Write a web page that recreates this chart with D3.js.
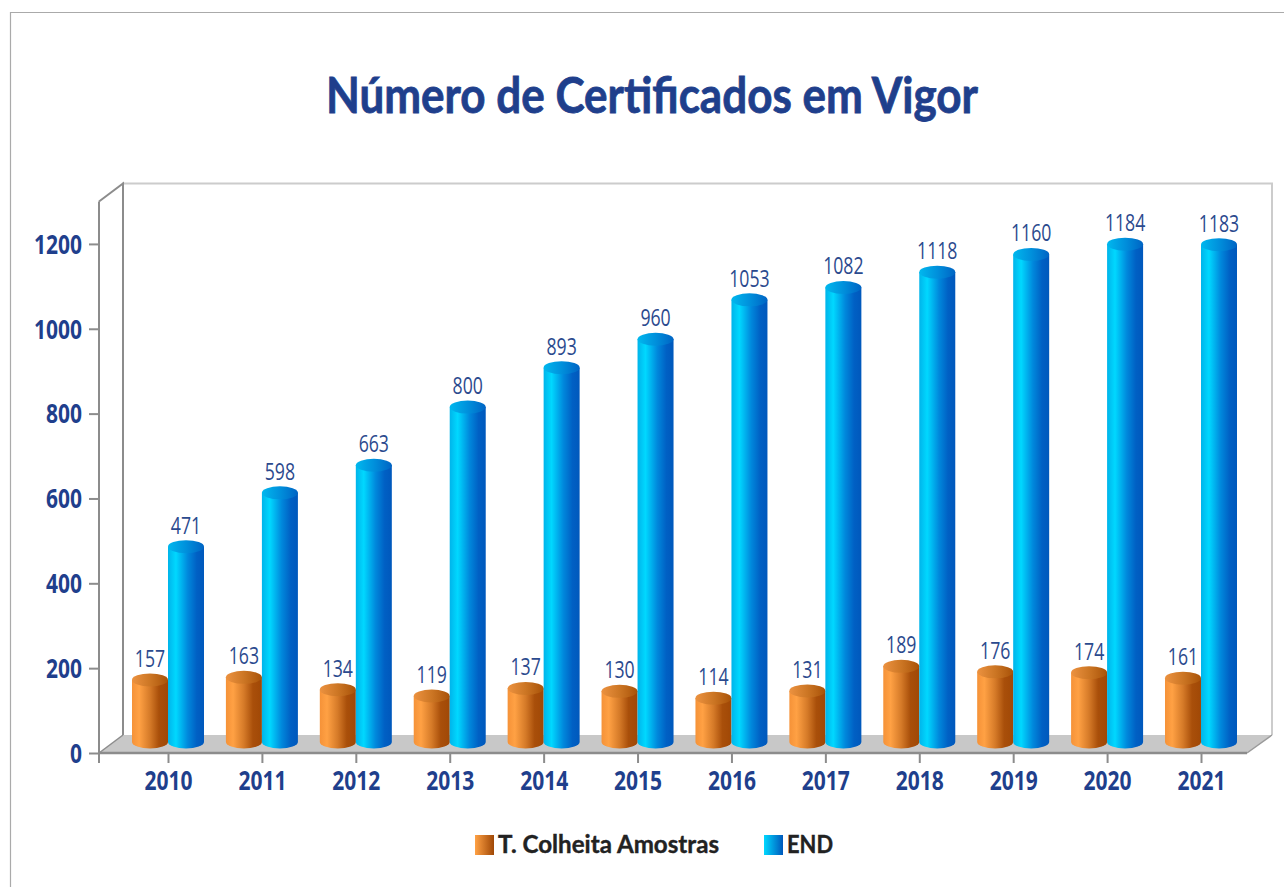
<!DOCTYPE html>
<html>
<head>
<meta charset="utf-8">
<script src="https://cdn.jsdelivr.net/npm/d3@7"></script>
<style>
  html, body { margin: 0; padding: 0; background: #fff; }
  svg { display: block; }
  text { font-family: "Open Sans", sans-serif; }
</style>
</head>
<body>
<div id="chart"></div>
<script>
// chart values
const years = ["2010","2011","2012","2013","2014","2015","2016","2017","2018","2019","2020","2021"];
const colheita = [157,163,134,119,137,130,114,131,189,176,174,161];
const endValues = [471,598,663,800,893,960,1053,1082,1118,1160,1184,1183];
const yTicks = [0,200,400,600,800,1000,1200];
const chartTitle = "Número de Certificados em Vigor";
const seriesNames = ["T. Colheita Amostras","END"];

const width = 1284, height = 887;
const navy = "#1f3f8c";

const svg = d3.select("#chart").append("svg")
  .attr("width", width)
  .attr("height", height)
  .attr("viewBox", `0 0 ${width} ${height}`);

// scales
const y = d3.scaleLinear().domain([0, 1300]).range([753, 201.5]);
const x = d3.scalePoint().domain(years).range([168, 1201]);

// gradients
const defs = svg.append("defs");
const addGradient = (id, stops) => {
  const g = defs.append("linearGradient").attr("id", id);
  stops.forEach(s => g.append("stop").attr("offset", s[0]).attr("stop-color", s[1]));
};
addGradient("orangeSide", [[0,"#f59238"],[0.2,"#ffa144"],[0.5,"#d57a28"],[0.75,"#a94f0a"],[1,"#a04806"]]);
addGradient("orangeTop", [[0,"#ec9240"],[0.5,"#cc7624"],[1,"#a85208"]]);
addGradient("blueSide", [[0,"#00b4ea"],[0.22,"#00d8ff"],[0.55,"#0088dc"],[0.8,"#0060c4"],[1,"#0058bc"]]);
addGradient("blueTop", [[0,"#00b8ee"],[0.5,"#0090dc"],[1,"#0064c4"]]);
addGradient("orangeKey", [[0,"#ffa144"],[1,"#a04806"]]);
addGradient("blueKey", [[0,"#00d8ff"],[1,"#0058bc"]]);

// outer frame
svg.append("path")
  .attr("d", `M10.5,${height} V12.5 H${width}`)
  .attr("fill", "none")
  .attr("stroke", "#aaaaaa")
  .attr("stroke-width", 1.2);

// title
svg.append("text")
  .attr("x", 652)
  .attr("y", 113)
  .attr("text-anchor", "middle")
  .attr("textLength", 652)
  .attr("lengthAdjust", "spacingAndGlyphs")
  .style("font-family", 'Lato, sans-serif')
  .style("font-size", "50px")
  .style("font-weight", 700)
  .attr("fill", navy)
  .attr("stroke", navy)
  .attr("stroke-width", 0.8)
  .text(chartTitle);

// 3d box
const depthX = 24, depthY = -18;
const xLeft = 99, xRight = 1247;
const yTop = y(1300), yBase = y(0);

svg.append("path")
  .attr("d", `M${xLeft},${yBase} L${xLeft + depthX},${yBase + depthY} H${xRight + depthX + 1} L${xRight},${yBase} Z`)
  .attr("fill", "#c8c8c8");

svg.append("path")
  .attr("d", `M${xLeft + depthX},${yBase + depthY} V${yTop + depthY} H${xRight + depthX + 1} V${yBase + depthY}`)
  .attr("fill", "none")
  .attr("stroke", "#cccccc")
  .attr("stroke-width", 2);

svg.append("path")
  .attr("d", `M${xLeft + depthX},${yBase + depthY} V${yTop + depthY} L${xLeft},${yTop}`)
  .attr("fill", "none")
  .attr("stroke", "#8c8c8c")
  .attr("stroke-width", 2);

svg.append("path")
  .attr("d", `M${xLeft},${yBase} L${xLeft + depthX},${yBase + depthY}`)
  .attr("stroke", "#8c8c8c")
  .attr("stroke-width", 1.5);

svg.append("path")
  .attr("d", `M${xRight},${yBase} L${xRight + depthX + 1},${yBase + depthY}`)
  .attr("stroke", "#9a9a9a")
  .attr("stroke-width", 1.5);

// axes
const yAxis = svg.append("g")
  .attr("transform", `translate(${xLeft},0)`)
  .call(d3.axisLeft(y).tickValues(yTicks).tickFormat(d3.format("d")).tickSize(10).tickPadding(7));
const xAxis = svg.append("g")
  .attr("transform", `translate(0,${yBase})`)
  .call(d3.axisBottom(x).tickSize(10).tickPadding(4).tickSizeOuter(0));

[yAxis, xAxis].forEach(a => {
  a.select(".domain").remove();
  a.selectAll("line").attr("stroke", "#8c8c8c").attr("stroke-width", 2);
  a.selectAll("text")
    .attr("fill", navy)
    .attr("textLength", function() { return this.textContent.length * 12; })
    .attr("lengthAdjust", "spacingAndGlyphs")
    .style("font-family", '"Open Sans", sans-serif')
    .style("font-size", "26px")
    .style("font-weight", 700);
});
yAxis.selectAll("text").attr("dy", "0.36em");
xAxis.selectAll("text").attr("y", 37).attr("dy", 0);

svg.append("line")
  .attr("x1", xLeft).attr("x2", xRight).attr("y1", yBase).attr("y2", yBase)
  .attr("stroke", "#8c8c8c").attr("stroke-width", 2.5);
svg.append("line")
  .attr("x1", xLeft).attr("x2", xLeft).attr("y1", yTop).attr("y2", yBase + 10)
  .attr("stroke", "#8c8c8c").attr("stroke-width", 2);

// cylinders
const barW = 36, ry = 6.5;
const floorY = y(0) - 11;
const topY = v => y(v) - 6.5;
const barCenter = (i, shift) => x(years[i]) + shift;

const drawSeries = (values, name, shift) => {
  const g = svg.append("g").attr("class", "series-" + name);

  g.selectAll("path.side")
    .data(values)
    .enter()
    .append("path")
    .attr("class", "side")
    .attr("fill", `url(#${name}Side)`)
    .attr("d", (d, i) => {
      const cx = barCenter(i, shift);
      return `M${cx - barW / 2},${topY(d)} V${floorY} A${barW / 2},${ry} 0 0 0 ${cx + barW / 2},${floorY} V${topY(d)} Z`;
    });

  g.selectAll("ellipse")
    .data(values)
    .enter()
    .append("ellipse")
    .attr("cx", (d, i) => barCenter(i, shift))
    .attr("cy", d => topY(d))
    .attr("rx", barW / 2)
    .attr("ry", ry)
    .attr("fill", `url(#${name}Top)`);
};

// labels go last, the orange ones sit partly over the blue bars
const drawLabels = (values, shift) => {
  svg.append("g").selectAll("text")
    .data(values)
    .enter()
    .append("text")
    .attr("x", (d, i) => barCenter(i, shift))
    .attr("y", d => topY(d) - 13)
    .attr("text-anchor", "middle")
    .attr("textLength", d => String(d).length * 10.1)
    .attr("lengthAdjust", "spacingAndGlyphs")
    .attr("fill", "#2b4a8e")
    .style("font-size", "24px")
    .text(d => d);
};

drawSeries(colheita, "orange", -18);
drawSeries(endValues, "blue", 18);
drawLabels(colheita, -18);
drawLabels(endValues, 18);

// legend
const legendItems = [
  { name: seriesNames[0], key: "orangeKey", x: 475, len: 221 },
  { name: seriesNames[1], key: "blueKey", x: 764, len: 46 }
];
const legend = svg.append("g");
legend.selectAll("rect")
  .data(legendItems)
  .enter()
  .append("rect")
  .attr("x", d => d.x)
  .attr("y", 835)
  .attr("width", 19)
  .attr("height", 20)
  .attr("fill", d => `url(#${d.key})`);
legend.selectAll("text")
  .data(legendItems)
  .enter()
  .append("text")
  .attr("x", d => d.x + 23)
  .attr("y", 853)
  .attr("textLength", d => d.len)
  .attr("lengthAdjust", "spacingAndGlyphs")
  .attr("fill", "#222222")
  .attr("stroke", "#222222")
  .attr("stroke-width", 0.4)
  .style("font-family", 'Lato, sans-serif')
  .style("font-size", "25px")
  .style("font-weight", 700)
  .text(d => d.name);
</script>
</body>
</html>
